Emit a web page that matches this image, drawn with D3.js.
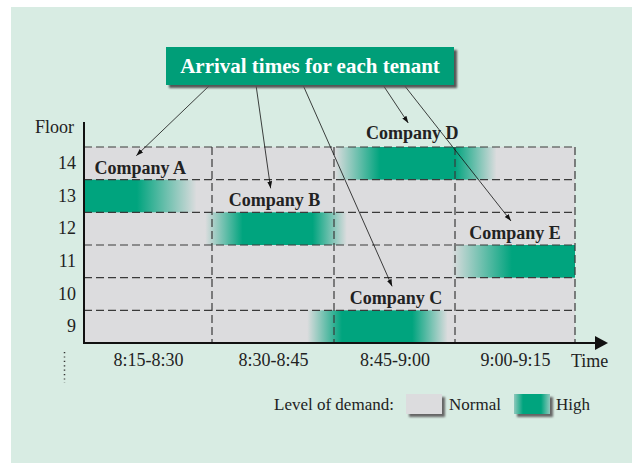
<!DOCTYPE html>
<html>
<head>
<meta charset="utf-8">
<script src="https://cdn.jsdelivr.net/npm/d3@7"></script>
<style>
  body { margin: 0; background: #fff; }
  svg { display: block; font-family: "Liberation Serif", "Times New Roman", serif; }
</style>
</head>
<body>
<svg id="chart" width="632" height="463"></svg>
<script>
// time periods (15 min each, counted in minutes from 8:15)
const periods = ['8:15-8:30', '8:30-8:45', '8:45-9:00', '9:00-9:15']
const floors = [14, 13, 12, 11, 10, 9]

// tenants and when their arrivals peak (minutes after 8:15)
const companies = ['Company A', 'Company B', 'Company C', 'Company D', 'Company E']
const companyFloor = [13, 12, 9, 14, 11]
const rampIn   = [0,    14.2, 26.7, 30.1, 44.6]
const peakFrom = [0,    18.8, 31.0, 35.7, 52.1]
const peakTo   = [6.2,  27.4, 39.7, 45.0, 60]
const rampOut  = [13.2, 31.6, 44.1, 50.2, 60]
const labelAt  = [6.6,  22.7, 37.7, 39.7, 52.5]

const green = '#00a47e'
const gray = '#dcdcde'
const svg = d3.select('#chart')
const defs = svg.append('defs')

const edges = d3.range(0, periods.length * 15 + 1, 15)
const x = d3.scaleLinear().domain(edges).range([84, 212, 334, 455, 575])
const y = d3.scaleBand().domain(floors).range([147, 343])

defs.append('filter').attr('id', 'blur')
  .append('feGaussianBlur').attr('stdDeviation', 1)

defs.append('marker')
  .attr('id', 'head')
  .attr('viewBox', '0 0 10 10')
  .attr('refX', 10).attr('refY', 5)
  .attr('markerWidth', 7).attr('markerHeight', 7)
  .attr('markerUnits', 'userSpaceOnUse')
  .attr('orient', 'auto')
  .append('path').attr('d', 'M0,1.5L10,5L0,8.5Z').attr('fill', '#111')

// panel
svg.append('rect').attr('x', 11).attr('y', 7).attr('width', 621).attr('height', 456).attr('fill', '#d8ece3')

// grey cells
svg.append('rect')
  .attr('x', x(0)).attr('y', y.range()[0])
  .attr('width', x(60) - x(0)).attr('height', y.range()[1] - y.range()[0])
  .attr('fill', gray)

// demand bars
companies.forEach(function(name, i) {
  const span = rampOut[i] - rampIn[i]
  const grad = defs.append('linearGradient').attr('id', 'g' + i)
  grad.append('stop').attr('offset', 0).attr('stop-color', green).attr('stop-opacity', rampIn[i] === peakFrom[i] ? 1 : 0)
  grad.append('stop').attr('offset', (peakFrom[i] - rampIn[i]) / span).attr('stop-color', green).attr('stop-opacity', 1)
  grad.append('stop').attr('offset', (peakTo[i] - rampIn[i]) / span).attr('stop-color', green).attr('stop-opacity', 1)
  grad.append('stop').attr('offset', 1).attr('stop-color', green).attr('stop-opacity', peakTo[i] === rampOut[i] ? 1 : 0)

  svg.append('rect')
    .attr('x', x(rampIn[i])).attr('y', y(companyFloor[i]))
    .attr('width', x(rampOut[i]) - x(rampIn[i])).attr('height', y.bandwidth())
    .attr('fill', 'url(#g' + i + ')')
})

// dashed grid
const grid = svg.append('g').attr('stroke', '#3a3a3a').attr('stroke-width', 1.2).attr('stroke-dasharray', '8,4')
floors.forEach(function(f) {
  grid.append('line').attr('x1', x(0)).attr('x2', x(60)).attr('y1', y(f)).attr('y2', y(f))
})
edges.slice(1).forEach(function(m) {
  grid.append('line').attr('x1', x(m)).attr('x2', x(m)).attr('y1', y.range()[0]).attr('y2', y.range()[1])
})

// axes lines
svg.append('line').attr('x1', x(0)).attr('x2', x(0)).attr('y1', 122).attr('y2', y.range()[1] + 1)
  .attr('stroke', '#111').attr('stroke-width', 2)
svg.append('line').attr('x1', x(0) - 1).attr('x2', 600).attr('y1', y.range()[1]).attr('y2', y.range()[1])
  .attr('stroke', '#111').attr('stroke-width', 2)
svg.append('path').attr('d', 'M595,336L608,343L595,350Z').attr('fill', '#111')

// tick labels
const yAxis = svg.append('g')
  .attr('transform', 'translate(76,0)')
  .call(d3.axisLeft(y).tickSize(0).tickPadding(0))
yAxis.attr('font-family', null).attr('font-size', 18)
yAxis.select('.domain').remove()
yAxis.selectAll('text').attr('fill', '#222')

const mids = periods.map((p, i) => (edges[i] + edges[i + 1]) / 2)
const xAxis = svg.append('g')
  .attr('transform', 'translate(0,' + (y.range()[1] + 10) + ')')
  .call(d3.axisBottom(x).tickValues(mids).tickFormat((d, i) => periods[i]).tickSize(0).tickPadding(0))
xAxis.attr('font-family', null).attr('font-size', 18)
xAxis.select('.domain').remove()
xAxis.selectAll('text').attr('fill', '#222')

svg.append('text').attr('x', 35).attr('y', 133).attr('font-size', 18).attr('fill', '#222').text('Floor')
svg.append('text').attr('x', 571).attr('y', 367).attr('font-size', 18).attr('fill', '#222').text('Time')

svg.append('line').attr('x1', 64.5).attr('x2', 64.5).attr('y1', 352).attr('y2', 383)
  .attr('stroke', '#333').attr('stroke-width', 1.5).attr('stroke-dasharray', '1.2,3.2')

// company labels and arrows
const arrowFrom = [210, 256, 303, 383, 404]
companies.forEach(function(name, i) {
  const lx = x(labelAt[i])
  const ly = y(companyFloor[i]) - (companyFloor[i] === 14 ? 8 : 6)
  svg.append('text')
    .attr('x', lx).attr('y', ly)
    .attr('text-anchor', 'middle')
    .attr('font-size', 18).attr('font-weight', 'bold').attr('fill', '#222')
    .text(name)
  svg.append('line')
    .attr('x1', arrowFrom[i]).attr('y1', 85)
    .attr('x2', lx - 4).attr('y2', y(companyFloor[i]) - 24)
    .attr('stroke', '#111').attr('stroke-width', 0.8)
    .attr('marker-end', 'url(#head)')
})

// title box
svg.append('rect').attr('x', 169).attr('y', 50).attr('width', 288).attr('height', 38)
  .attr('fill', '#555').attr('filter', 'url(#blur)')
svg.append('rect').attr('x', 166).attr('y', 47).attr('width', 288).attr('height', 38).attr('fill', '#009e78')
svg.append('text').attr('x', 310).attr('y', 73).attr('text-anchor', 'middle')
  .attr('font-size', 21).attr('font-weight', 'bold').attr('fill', '#fff')
  .text('Arrival times for each tenant')

// legend
const legGrad = defs.append('linearGradient').attr('id', 'leg')
;[[0, 0.35], [0.25, 1], [0.75, 1], [1, 0.35]].forEach(function(s) {
  legGrad.append('stop').attr('offset', s[0]).attr('stop-color', green).attr('stop-opacity', s[1])
})
svg.append('text').attr('x', 274).attr('y', 410).attr('font-size', 17).attr('fill', '#222').text('Level of demand:')
const swatches = [{x: 406, fill: gray, label: 'Normal', tx: 449}, {x: 514, fill: 'url(#leg)', label: 'High', tx: 556}]
swatches.forEach(function(s) {
  svg.append('rect').attr('x', s.x + 3).attr('y', 397).attr('width', 36).attr('height', 20)
    .attr('fill', '#666').attr('filter', 'url(#blur)')
  svg.append('rect').attr('x', s.x).attr('y', 394).attr('width', 36).attr('height', 20).attr('fill', gray)
  svg.append('rect').attr('x', s.x).attr('y', 394).attr('width', 36).attr('height', 20).attr('fill', s.fill)
  svg.append('text').attr('x', s.tx).attr('y', 410).attr('font-size', 17).attr('fill', '#222').text(s.label)
})
</script>
</body>
</html>
